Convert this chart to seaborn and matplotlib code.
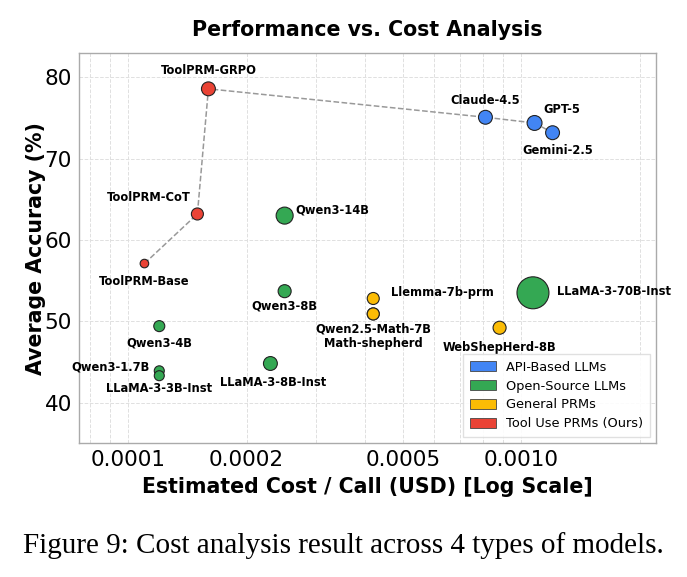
import numpy as np
import pandas as pd
import matplotlib
matplotlib.use("Agg")
import matplotlib.pyplot as plt
import matplotlib.ticker as mticker
from matplotlib.patches import Patch
import seaborn as sns

# --- data ---
models = [
    "ToolPRM-Base", "ToolPRM-CoT", "ToolPRM-GRPO",
    "Claude-4.5", "GPT-5", "Gemini-2.5",
    "Qwen3-14B", "Qwen3-8B", "Qwen3-4B", "Qwen3-1.7B",
    "LLaMA-3-3B-Inst", "LLaMA-3-8B-Inst", "LLaMA-3-70B-Inst",
    "Llemma-7b-prm", "Qwen2.5-Math-7B", "Math-shepherd", "WebShepHerd-8B",
]
cost = [
    0.00011, 0.00015, 0.00016,
    0.00081, 0.00108, 0.00120,
    0.00025, 0.00025, 0.00012, 0.00012,
    0.00012, 0.00023, 0.00107,
    0.00042, 0.00042, 0.00042, 0.00088,
]
accuracy = [
    57.1, 63.2, 78.6,
    75.1, 74.4, 73.2,
    63.0, 53.7, 49.4, 43.9,
    43.3, 44.8, 53.5,
    52.8, 50.9, 50.9, 49.2,
]
model_type = [
    "Tool Use PRMs (Ours)", "Tool Use PRMs (Ours)", "Tool Use PRMs (Ours)",
    "API-Based LLMs", "API-Based LLMs", "API-Based LLMs",
    "Open-Source LLMs", "Open-Source LLMs", "Open-Source LLMs", "Open-Source LLMs",
    "Open-Source LLMs", "Open-Source LLMs", "Open-Source LLMs",
    "General PRMs", "General PRMs", "General PRMs", "General PRMs",
]
marker_size = [
    38, 75, 100,
    100, 115, 100,
    150, 88, 63, 52,
    52, 100, 530,
    75, 75, 75, 88,
]
frontier = ["ToolPRM-Base", "ToolPRM-CoT", "ToolPRM-GRPO", "Claude-4.5", "GPT-5", "Gemini-2.5"]

type_order = ["API-Based LLMs", "Open-Source LLMs", "General PRMs", "Tool Use PRMs (Ours)"]
palette = {
    "API-Based LLMs": "#4285F4",
    "Open-Source LLMs": "#34A853",
    "General PRMs": "#FBBC05",
    "Tool Use PRMs (Ours)": "#EA4335",
}

# label placement: (text, dx, dy, ha) in points
labels = {
    "ToolPRM-GRPO": ("ToolPRM-GRPO", 0, 13, "center"),
    "ToolPRM-CoT": ("ToolPRM-CoT", -5, 12, "right"),
    "ToolPRM-Base": ("ToolPRM-Base", 0, -13, "center"),
    "Qwen3-14B": ("Qwen3-14B", 8, 4, "left"),
    "Qwen3-8B": ("Qwen3-8B", 0, -11, "center"),
    "Qwen3-4B": ("Qwen3-4B", 0, -12, "center"),
    "Qwen3-1.7B": ("Qwen3-1.7B", -7, 3, "right"),
    "LLaMA-3-3B-Inst": ("LLaMA-3-3B-Inst", 0, -9, "center"),
    "LLaMA-3-8B-Inst": ("LLaMA-3-8B-Inst", 2, -13.5, "center"),
    "Claude-4.5": ("Claude-4.5", 0, 12, "center"),
    "GPT-5": ("GPT-5", 6, 10, "left"),
    "Gemini-2.5": ("Gemini-2.5", 4, -12.5, "center"),
    "Llemma-7b-prm": ("Llemma-7b-prm", 13, 4, "left"),
    "Qwen2.5-Math-7B": ("Qwen2.5-Math-7B\nMath-shepherd", 0, -16, "center"),
    "WebShepHerd-8B": ("WebShepHerd-8B", 0, -14.5, "center"),
    "LLaMA-3-70B-Inst": ("LLaMA-3-70B-Inst", 17, 1, "left"),
}

df = pd.DataFrame({
    "model": models, "cost": cost, "accuracy": accuracy,
    "type": model_type, "size": marker_size,
})

sns.set_style("whitegrid")
plt.rcParams["font.family"] = ["DejaVu Sans"]
plt.rcParams["text.color"] = "black"
plt.rcParams["axes.labelcolor"] = "black"
plt.rcParams["xtick.color"] = "black"
plt.rcParams["ytick.color"] = "black"

fig = plt.figure(figsize=(6.87, 5.77), dpi=100)
ax = fig.add_axes([0.115, 0.232, 0.840, 0.676])

# dashed frontier line
front = df.set_index("model").loc[frontier].reset_index()
sns.lineplot(data=front, x="cost", y="accuracy", sort=False, ax=ax,
             color="#999999", linestyle="--", linewidth=1.1, zorder=1)

sns.scatterplot(data=df, x="cost", y="accuracy", hue="type", hue_order=type_order,
                palette=palette, size="size",
                sizes=(min(marker_size), max(marker_size)),
                edgecolor="#222222", linewidth=0.8, alpha=1.0,
                legend=False, ax=ax, zorder=3)

for _, row in df.iterrows():
    if row["model"] not in labels:
        continue
    text, dx, dy, ha = labels[row["model"]]
    ax.annotate(text, (row["cost"], row["accuracy"]), xytext=(dx, dy),
                textcoords="offset points", ha=ha, va="center",
                fontsize=8.3, fontweight="bold", multialignment="center",
                annotation_clip=False, zorder=4)

ax.set_xscale("log")
ax.set_xlim(0.000075, 0.0022)
ax.set_ylim(35, 83)
ax.xaxis.set_major_locator(mticker.FixedLocator([0.0001, 0.0002, 0.0005, 0.001]))
ax.xaxis.set_major_formatter(mticker.FormatStrFormatter("%.4f"))
ax.xaxis.set_minor_locator(mticker.LogLocator(base=10, subs=np.arange(1, 10)))
ax.xaxis.set_minor_formatter(mticker.NullFormatter())
ax.set_yticks([40, 50, 60, 70, 80])

ax.grid(True, which="both", linestyle="--", color="#e0e0e0", linewidth=0.7)
ax.tick_params(axis="both", labelsize=15.5, length=0, pad=5)
for sp in ax.spines.values():
    sp.set_color("#aaaaaa")
    sp.set_linewidth(1.0)

ax.set_title("Performance vs. Cost Analysis", fontsize=14.8, fontweight="bold", pad=12)
ax.set_xlabel("Estimated Cost / Call (USD) [Log Scale]", fontsize=14.8, fontweight="bold", labelpad=5)
ax.set_ylabel("Average Accuracy (%)", fontsize=14.8, fontweight="bold", labelpad=-1)

handles = [Patch(facecolor=palette[t], edgecolor="#444444", linewidth=0.6, label=t)
           for t in type_order]
ax.legend(handles=handles, loc="lower right", fontsize=9.3, frameon=True,
          framealpha=0.9, edgecolor="#dddddd", borderpad=0.5, labelspacing=0.45,
          handlelength=2.0, handleheight=0.8, fancybox=False, borderaxespad=0.5)

fig.text(0.5, 0.055, "Figure 9: Cost analysis result across 4 types of models.",
         ha="center", va="center", fontsize=21, family="Liberation Serif")

fig.savefig("out.png", dpi=100)
